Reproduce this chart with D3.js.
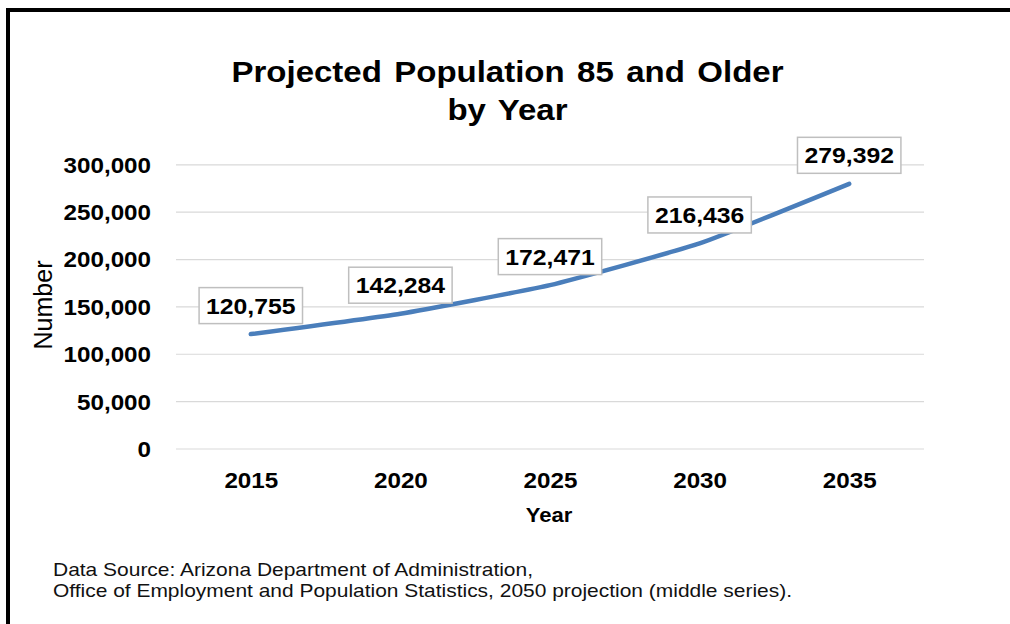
<!DOCTYPE html>
<html>
<head>
<meta charset="utf-8">
<script src="https://cdn.jsdelivr.net/npm/d3@7"></script>
<style>
  body { margin: 0; background: #fff; }
  text { font-family: Arial, "Liberation Sans", sans-serif; }
</style>
</head>
<body>
<div id="chart"></div>
<script>
// chart data
var years = ["2015", "2020", "2025", "2030", "2035"];
var population = [120755, 142284, 172471, 216436, 279392];
var yTicks = [0, 50000, 100000, 150000, 200000, 250000, 300000];
var titleLines = ["Projected Population 85 and Older", "by Year"];
var sourceLines = [
  "Data Source: Arizona  Department of Administration,",
  "Office of Employment  and Population Statistics, 2050 projection (middle  series)."
];

var svgWidth = 1010;
var svgHeight = 624;

// plot area
var plot = { left: 176, right: 924, top: 164.3, bottom: 448.5 };
var stretch = 1.1; // text in the picture is a bit wide

var svg = d3.select("#chart")
  .append("svg")
  .attr("width", svgWidth)
  .attr("height", svgHeight);

// black frame on top and left
svg.append("path")
  .attr("d", "M8,624 V10 H1010")
  .attr("fill", "none")
  .attr("stroke", "#000")
  .attr("stroke-width", 4);

// scales
var x = d3.scalePoint()
  .domain(years)
  .range([plot.left, plot.right])
  .padding(0.5);

var y = d3.scaleLinear()
  .domain([0, 300000])
  .range([plot.bottom, plot.top]);

// title
svg.selectAll(".title")
  .data(titleLines)
  .enter()
  .append("text")
  .attr("class", "title")
  .attr("transform", (d, i) => `translate(507.5, ${82 + i * 37.5}) scale(${stretch},1)`)
  .attr("text-anchor", "middle")
  .style("font-size", "30px")
  .style("font-weight", "bold")
  .style("word-spacing", "3px")
  .text(d => d);

// y axis with gridlines
var leftAxis = d3.axisLeft(y)
  .tickValues(yTicks)
  .tickSize(-(plot.right - plot.left))
  .tickFormat(d3.format(","));

var yAxis = svg.append("g")
  .attr("transform", `translate(${plot.left}, 0)`)
  .call(leftAxis);

yAxis.select(".domain").remove();
yAxis.selectAll(".tick line")
  .attr("stroke", "#d9d9d9")
  .attr("stroke-width", 1.2);
yAxis.selectAll(".tick text")
  .attr("x", 0)
  .attr("dy", "0.36em")
  .attr("transform", `translate(-25, 0) scale(${stretch},1)`)
  .attr("fill", "#000")
  .style("font-size", "22px")
  .style("font-weight", "bold");

// x axis
var bottomAxis = d3.axisBottom(x).tickSize(0);

var xAxis = svg.append("g")
  .attr("transform", `translate(0, ${plot.bottom})`)
  .call(bottomAxis);

xAxis.select(".domain").remove();
xAxis.selectAll(".tick text")
  .attr("y", 0)
  .attr("dy", 0)
  .attr("transform", `translate(0, 39) scale(${stretch},1)`)
  .attr("fill", "#000")
  .style("font-size", "22px")
  .style("font-weight", "bold");

// axis titles
svg.append("text")
  .attr("transform", "translate(52, 305) rotate(-90)")
  .attr("text-anchor", "middle")
  .style("font-size", "25px")
  .text("Number");

svg.append("text")
  .attr("transform", `translate(549, 521.5) scale(1.05,1)`)
  .attr("text-anchor", "middle")
  .style("font-size", "21px")
  .style("font-weight", "bold")
  .text("Year");

// the line (lightly smoothed, like the original)
var line = d3.line()
  .x((d, i) => x(years[i]))
  .y(d => y(d))
  .curve(d3.curveCardinal.tension(0.6));

svg.append("path")
  .datum(population)
  .attr("d", line)
  .attr("fill", "none")
  .attr("stroke", "#4a7ebb")
  .attr("stroke-width", 4.5)
  .attr("stroke-linecap", "round")
  .attr("stroke-linejoin", "round");

// data labels in boxes
var labels = svg.selectAll(".dlabel")
  .data(population)
  .enter()
  .append("g")
  .attr("class", "dlabel")
  .attr("transform", (d, i) => `translate(${x(years[i])}, ${y(d) - 28.5})`);

labels.append("rect")
  .attr("fill", "#fff")
  .attr("stroke", "#bfbfbf")
  .attr("stroke-width", 1.5);

labels.append("text")
  .attr("transform", `translate(0, 8) scale(1.1,1)`)
  .attr("text-anchor", "middle")
  .style("font-size", "22.5px")
  .style("font-weight", "bold")
  .text(d => d3.format(",")(d));

labels.each(function() {
  var g = d3.select(this);
  var w = g.select("text").node().getComputedTextLength() * 1.1 + 14;
  g.select("rect")
    .attr("x", -w / 2)
    .attr("y", -18)
    .attr("width", w)
    .attr("height", 36);
});

// source note
var sourceWidths = [480, 739];
svg.selectAll(".source")
  .data(sourceLines)
  .enter()
  .append("text")
  .attr("class", "source")
  .attr("x", 53)
  .attr("y", (d, i) => 576 + i * 20.7)
  .attr("textLength", (d, i) => sourceWidths[i])
  .attr("lengthAdjust", "spacingAndGlyphs")
  .style("font-size", "19px")
  .attr("fill", "#111")
  .text(d => d);
</script>
</body>
</html>
